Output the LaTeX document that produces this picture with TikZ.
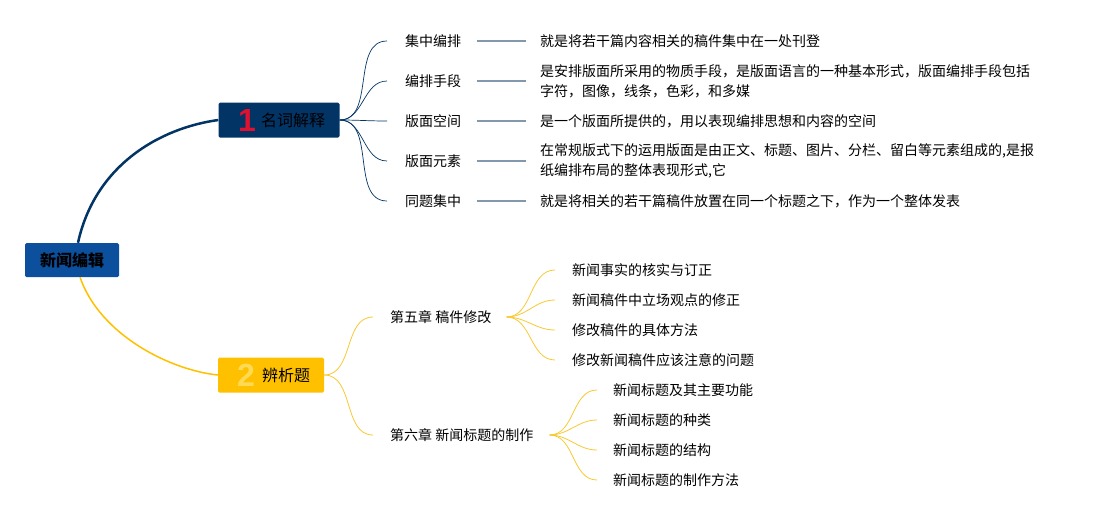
\documentclass[tikz,border=0pt]{standalone}
\usepackage{fontspec}
\setmainfont{Noto Sans CJK SC}
\newfontfamily\numfont{Liberation Sans}
\usetikzlibrary{positioning,calc}
\definecolor{rootblue}{HTML}{0B4F9D}
\definecolor{navy}{HTML}{033466}
\definecolor{gold}{HTML}{FFC000}
\definecolor{paleyellow}{HTML}{FFDB55}
\definecolor{numred}{HTML}{E0102F}
\definecolor{barblue}{HTML}{8397AE}
\definecolor{twig}{HTML}{F7C933}
\tikzset{font=\fontsize{14}{20}\selectfont}

\begin{document}
\begin{tikzpicture}[x=1pt, y=-1pt]
	\useasboundingbox (0,0) rectangle (1101,520);
	\begin{scope}
		\tikzstyle{every node}=[inner sep=0pt]
		\tikzstyle{topicbox}=[rounded corners=1.5pt, minimum height=35pt]
		\tikzstyle{topictext}=[anchor=west, font=\fontsize{16}{16}\selectfont]
		\tikzstyle{num}=[font=\numfont\bfseries\fontsize{32}{32}\selectfont]
		\tikzstyle{leaf}=[anchor=west, align=left]

		% root and the two topics
		\node[topicbox, fill=rootblue, minimum width=94pt, minimum height=34pt,
		      font=\fontsize{16}{16}\selectfont\bfseries] (root) at (72,260) {新闻编辑};
		\node[topicbox, fill=navy, minimum width=121pt] (t1) at (279,120) {};
		\node[num, text=numred] (n1) at (247,120) {1};
		\node[topictext] (l1) at (261,120) {名词解释};
		\node[topicbox, fill=gold, minimum width=106pt] (t2) at (271,375) {};
		\node[num, text=paleyellow] (n2) at (246,375) {2};
		\node[topictext] (l2) at (262,375) {辨析题};

		% terms
		\node[leaf] (a1) at (405,41)  {集中编排};
		\node[leaf] (a2) at (405,81)  {编排手段};
		\node[leaf] (a3) at (405,121) {版面空间};
		\node[leaf] (a4) at (405,161) {版面元素};
		\node[leaf] (a5) at (405,201) {同题集中};
		\node[leaf] (d1) at (540,41)  {就是将若干篇内容相关的稿件集中在一处刊登};
		\node[leaf] (d2) at (540,81)  {是安排版面所采用的物质手段，是版面语言的一种基本形式，版面编排手段包括\\字符，图像，线条，色彩，和多媒};
		\node[leaf] (d3) at (540,121) {是一个版面所提供的，用以表现编排思想和内容的空间};
		\node[leaf] (d4) at (540,161) {在常规版式下的运用版面是由正文、标题、图片、分栏、留白等元素组成的,是报\\纸编排布局的整体表现形式,它};
		\node[leaf] (d5) at (540,201) {就是将相关的若干篇稿件放置在同一个标题之下，作为一个整体发表};

		% chapters
		\node[leaf] (c5) at (390,317) {第五章 稿件修改};
		\node[leaf] (c6) at (390,435) {第六章 新闻标题的制作};
		\node[leaf] (s1) at (572,270) {新闻事实的核实与订正};
		\node[leaf] (s2) at (572,300) {新闻稿件中立场观点的修正};
		\node[leaf] (s3) at (572,330) {修改稿件的具体方法};
		\node[leaf] (s4) at (572,360) {修改新闻稿件应该注意的问题};
		\node[leaf] (h1) at (613,390) {新闻标题及其主要功能};
		\node[leaf] (h2) at (613,420) {新闻标题的种类};
		\node[leaf] (h3) at (613,450) {新闻标题的结构};
		\node[leaf] (h4) at (613,480) {新闻标题的制作方法};

		\draw[navy, line width=2.5pt] ([xshift=6pt]root.north) .. controls (95,165) and (160,128) .. (t1.west);
		\draw[gold, line width=1.5pt] ([xshift=8pt]root.south) .. controls (100,335) and (170,370) .. (t2.west);

		\foreach \i in {1,...,5} {
			\draw[navy, line width=0.7pt] (t1.east) to[out=0, in=180] ([xshift=-18pt]a\i.west);
			\draw[barblue, line width=2pt] ([xshift=16pt]a\i.east) -- ([xshift=-14pt]d\i.west);
		}

		\draw[twig, line width=0.8pt] (t2.east) to[out=0, in=180] ([xshift=-17pt]c5.west);
		\draw[twig, line width=0.8pt] (t2.east) to[out=0, in=180] ([xshift=-17pt]c6.west);
		\foreach \i in {1,...,4} {
			\draw[twig, line width=0.8pt] ([xshift=15pt]c5.east) to[out=0, in=180] ([xshift=-17pt]s\i.west);
			\draw[twig, line width=0.8pt] ([xshift=16pt]c6.east) to[out=0, in=180] ([xshift=-16pt]h\i.west);
		}
	\end{scope}
\end{tikzpicture}
\end{document}
